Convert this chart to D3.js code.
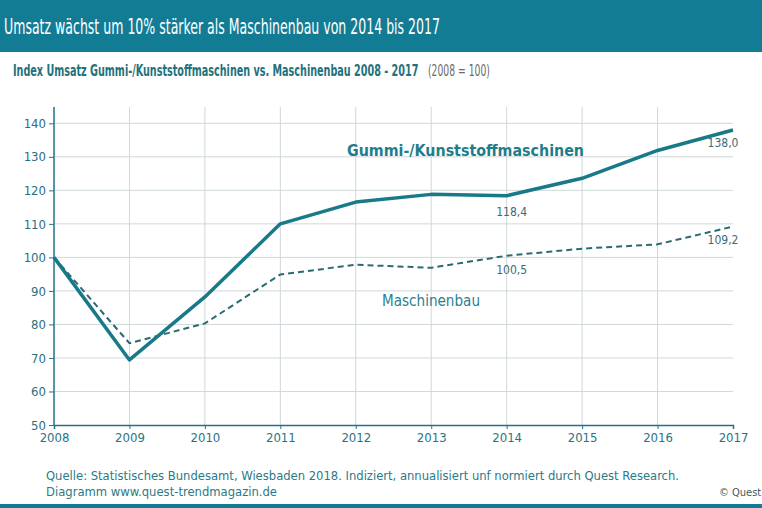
<!DOCTYPE html>
<html>
<head>
<meta charset="utf-8">
<script src="https://cdn.jsdelivr.net/npm/d3@7"></script>
<style>
  body { margin: 0; background: #fff; }
  svg { display: block; font-family: "DejaVu Sans Condensed", "DejaVu Sans", sans-serif; }
</style>
</head>
<body>
<script>
// Data
const years = [2008, 2009, 2010, 2011, 2012, 2013, 2014, 2015, 2016, 2017]
const gummi = [100, 69.4, 88.2, 110, 116.5, 118.8, 118.4, 123.6, 131.9, 138.0]
const maschinenbau = [100, 74.4, 80.3, 94.9, 97.8, 96.9, 100.5, 102.6, 103.9, 109.2]
const yTicks = [50, 60, 70, 80, 90, 100, 110, 120, 130, 140]
const valueLabels = [
  { series: "gummi", year: 2014, text: "118,4" },
  { series: "gummi", year: 2017, text: "138,0" },
  { series: "maschinenbau", year: 2014, text: "100,5" },
  { series: "maschinenbau", year: 2017, text: "109,2" },
]

const width = 762, height = 508
const teal = "#137c95"
const axisColor = "#1f7585"

const svg = d3.select("body").append("svg")
  .attr("width", width)
  .attr("height", height)

// Squeeze a text horizontally so it spans `w` pixels, keeping its height
function fitWidth(sel, x0, y0, w) {
  const natural = sel.node().getComputedTextLength()
  sel.attr("transform", `translate(${x0},${y0}) scale(${w / natural},1)`)
  return x0 + w
}

// Title bar
svg.append("rect").attr("x", 0).attr("y", 0).attr("width", width).attr("height", 52).attr("fill", teal)
svg.append("text")
  .attr("x", 4).attr("y", 34)
  .attr("fill", "#fff")
  .style("font-size", "21px")
  .attr("textLength", 436).attr("lengthAdjust", "spacingAndGlyphs")
  .text("Umsatz wächst um 10% stärker als Maschinenbau von 2014 bis 2017")

// Subtitle
const subBold = svg.append("text")
  .attr("fill", "#22717d")
  .style("font-size", "15px").style("font-weight", "bold")
  .text("Index Umsatz Gummi-/Kunststoffmaschinen vs. Maschinenbau 2008 - 2017")
fitWidth(subBold, 13, 76, 406)
const subNote = svg.append("text")
  .attr("fill", "#6a6a6a")
  .style("font-size", "15px")
  .text("(2008 = 100)")
fitWidth(subNote, 428, 76, 62)

// Scales
const x = d3.scaleLinear().domain([2008, 2017]).range([54, 733])
const y = d3.scaleLinear().domain([50, 140]).range([425, 123.3])

// Grid
svg.append("g")
  .selectAll("line")
  .data(yTicks.slice(1))
  .join("line")
  .attr("x1", x(2008)).attr("x2", x(2017))
  .attr("y1", d => y(d)).attr("y2", d => y(d))
  .attr("stroke", "#cfd8db").attr("stroke-width", 1)
svg.append("g")
  .selectAll("line")
  .data(years.slice(1, -1))
  .join("line")
  .attr("x1", d => x(d)).attr("x2", d => x(d))
  .attr("y1", 107).attr("y2", y(50))
  .attr("stroke", "#cfd8db").attr("stroke-width", 1)

// X axis
svg.append("g")
  .attr("transform", `translate(0,${y(50)})`)
  .call(d3.axisBottom(x).tickValues(years).tickFormat(d3.format("d")).tickSize(4).tickPadding(4))
  .call(g => g.select(".domain").attr("stroke", axisColor).attr("stroke-width", 1.5))
  .call(g => g.selectAll(".tick line").attr("stroke", axisColor))
  .selectAll("text")
  .attr("fill", axisColor)
  .style("font-size", "13px")
  .style("font-family", "\"DejaVu Sans Condensed\", sans-serif")

// Y axis
svg.append("g")
  .attr("transform", `translate(${x(2008)},0)`)
  .call(d3.axisLeft(y).tickValues(yTicks).tickSize(5).tickPadding(3))
  .call(g => g.select(".domain").attr("d", `M0,107V${y(50)}`).attr("stroke", axisColor).attr("stroke-width", 1.5))
  .call(g => g.selectAll(".tick line").attr("stroke", axisColor))
  .selectAll("text")
  .attr("fill", "#2b6f7e")
  .style("font-size", "13px")
  .style("font-family", "\"DejaVu Sans Condensed\", sans-serif")

// Lines
const line = d3.line().x((d, i) => x(years[i])).y(d => y(d))
svg.append("path")
  .datum(maschinenbau)
  .attr("d", line)
  .attr("fill", "none")
  .attr("stroke", "#2c6a72")
  .attr("stroke-width", 2)
  .attr("stroke-dasharray", "6,4")
svg.append("path")
  .datum(gummi)
  .attr("d", line)
  .attr("fill", "none")
  .attr("stroke", "#187a88")
  .attr("stroke-width", 3.5)
  .attr("stroke-linejoin", "round")

// Series names
svg.append("text")
  .attr("x", 347).attr("y", 156)
  .attr("fill", "#1d7d8c")
  .style("font-size", "16px").style("font-weight", "bold")
  .attr("textLength", 237).attr("lengthAdjust", "spacingAndGlyphs")
  .text("Gummi-/Kunststoffmaschinen")
svg.append("text")
  .attr("x", 382).attr("y", 306)
  .attr("fill", "#2a8090")
  .style("font-size", "15px")
  .attr("textLength", 98).attr("lengthAdjust", "spacingAndGlyphs")
  .text("Maschinenbau")

// Value labels
const series = { gummi, maschinenbau }
const labelOffset = { gummi: [17, 20], maschinenbau: [17, 18] }
svg.append("g")
  .selectAll("text")
  .data(valueLabels)
  .join("text")
  .attr("x", d => d.year === 2017 ? x(d.year) - 10 : x(d.year) + 5)
  .attr("y", d => y(series[d.series][years.indexOf(d.year)]) + (d.year === 2017 ? labelOffset[d.series][0] : labelOffset[d.series][1]))
  .attr("text-anchor", "middle")
  .attr("fill", "#3b6b73")
  .style("font-size", "12px")
  .text(d => d.text)

// Footer
svg.append("text")
  .attr("x", 46).attr("y", 480)
  .attr("fill", "#2a7a88")
  .style("font-size", "13px")
  .attr("textLength", 633).attr("lengthAdjust", "spacingAndGlyphs")
  .text("Quelle: Statistisches Bundesamt, Wiesbaden 2018. Indiziert, annualisiert unf normiert durch Quest Research.")
svg.append("text")
  .attr("x", 46).attr("y", 496)
  .attr("fill", "#2a7a88")
  .style("font-size", "13px")
  .attr("textLength", 231).attr("lengthAdjust", "spacingAndGlyphs")
  .text("Diagramm  www.quest-trendmagazin.de")
svg.append("text")
  .attr("x", 719).attr("y", 496)
  .attr("fill", "#3d5a60")
  .style("font-size", "11px")
  .text("© Quest")
svg.append("rect").attr("x", 0).attr("y", 504).attr("width", width).attr("height", 4).attr("fill", teal)
</script>
</body>
</html>
